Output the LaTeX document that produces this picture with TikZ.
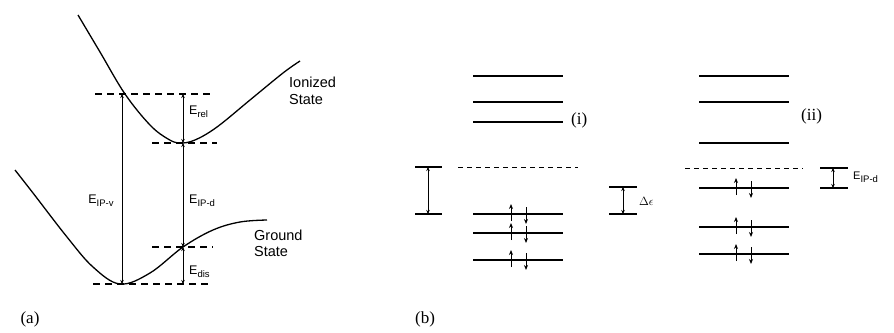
\documentclass[tikz,border=0pt]{standalone}
\usepackage{fontspec}
\setmainfont{Liberation Serif}
\setsansfont{Liberation Sans}
\usetikzlibrary{arrows.meta}

\tikzset{
  curve/.style={line width=1.3pt},
  guide/.style={dash pattern=on 7pt off 5pt, line width=1.1pt},
  level/.style={line width=2.4pt},
  gap/.style={line width=1pt, {Stealth[length=4pt,width=3.5pt]}-{Stealth[length=4pt,width=3.5pt]}},
  upspin/.style={line width=1pt, -{Stealth[length=5pt,width=4pt]}},
  downspin/.style={line width=1pt, -{Stealth[length=5pt,width=4pt]}},
  lab/.style={font=\sffamily\fontsize{12.5}{13}\selectfont, inner sep=1pt},
  tag/.style={font=\fontsize{17}{18}\selectfont, inner sep=1pt},
}
\newcommand{\Elab}[1]{E\raisebox{-0.5ex}{\fontsize{9.5}{9.5}\selectfont #1}}

\begin{document}
\begin{tikzpicture}[x=1pt, y=-1pt]
    \useasboundingbox (0,0) rectangle (894,332);

    % (a) potential curves
    \draw[curve] plot[smooth, tension=0.6] coordinates {(78,15) (100,52) (125,94) (150,125) (168,139) (180,143) (195,140) (217,127) (250,100) (283,73) (300,61)};
    \draw[curve] plot[smooth, tension=0.6] coordinates {(15,170) (33,193) (67,237) (93,267) (120,284) (150,273) (183,247) (213,230) (240,222) (267,220)};

    % guide levels
    \coordinate (vtop) at (122,94);
    \coordinate (vbot) at (122,284);
    \coordinate (dtop) at (183,94);
    \coordinate (dmin) at (183,143);
    \coordinate (dcross) at (183,247);
    \coordinate (dbot) at (183,284);
    \draw[guide] (95,94) -- (213,94);
    \draw[guide] (152,143) -- (217,143);
    \draw[guide] (152,247) -- (213,247);
    \draw[guide] (93,284) -- (212,284);

    % energies
    \draw[gap] (vbot) -- (vtop);
    \draw[gap] (dtop) -- (dmin);
    \draw[gap] (dmin) -- (dcross);
    \draw[gap] (dcross) -- (dbot);
    \node[lab] (eipv) at (101,201) {\Elab{IP-v}};
    \node[lab, anchor=west] (erel) at (188,112) {\Elab{rel}};
    \node[lab, anchor=west] (eipd) at (188,201) {\Elab{IP-d}};
    \node[lab, anchor=west] (edis) at (188,272) {\Elab{dis}};
    \node[lab, font=\sffamily\fontsize{14.5}{17}\selectfont, align=left, anchor=west] (ion) at (288,91) {Ionized\\State};
    \node[lab, font=\sffamily\fontsize{14.5}{16}\selectfont, align=left, anchor=west] (gnd) at (253,243) {Ground\\State};

    % (b)(i) levels
    \foreach \y in {76,102,122} {
        \draw[level] (473,\y) -- (563,\y);
    }
    \draw[guide, line width=1pt, dash pattern=on 5pt off 4pt] (458,167) -- (578,167);
    \foreach \y in {214,233,260} {
        \draw[level, line width=2pt] (473,\y) -- (563,\y);
        \draw[upspin] (511,\y+7) -- (511,\y-10);
        \draw[downspin] (526,\y-7) -- (526,\y+10);
    }
    \node[tag, anchor=west] (lbi) at (570,120) {(i)};

    % gap bars for (i)
    \coordinate (gi1) at (428,167);
    \coordinate (gi2) at (428,214);
    \draw[line width=1.5pt] (415,167) -- (442,167) (415,214) -- (442,214);
    \draw[gap] (gi1) -- (gi2);
    \coordinate (de1) at (623,187);
    \coordinate (de2) at (623,214);
    \draw[line width=1.5pt] (609,187) -- (637,187) (609,214) -- (637,214);
    \draw[gap] (de1) -- (de2);
    \node[lab, anchor=west, font=\fontsize{12}{12}\selectfont] (deps) at (638,201) {$\Delta\epsilon$};

    % (b)(ii) levels
    \foreach \y in {76,102,143} {
        \draw[level] (699,\y) -- (789,\y);
    }
    \draw[guide, line width=1pt, dash pattern=on 5pt off 4pt] (685,168) -- (803,168);
    \foreach \y in {188,227,254} {
        \draw[level, line width=2pt] (699,\y) -- (789,\y);
        \draw[upspin] (736,\y+7) -- (736,\y-10);
        \draw[downspin] (751,\y-7) -- (751,\y+10);
    }
    \node[tag, anchor=west] (lbii) at (800,116) {(ii)};

    % gap bar for (ii)
    \coordinate (gii1) at (833,168);
    \coordinate (gii2) at (833,188);
    \draw[line width=1.5pt] (820,168) -- (848,168) (820,188) -- (848,188);
    \draw[gap] (gii1) -- (gii2);
    \node[lab, anchor=west, font=\sffamily\fontsize{11}{11}\selectfont] (eipd2) at (852,177) {\Elab{IP-d}};

    % panel tags
    \node[tag] (pa) at (30,319) {(a)};
    \node[tag] (pb) at (425,319) {(b)};
\end{tikzpicture}
\end{document}
